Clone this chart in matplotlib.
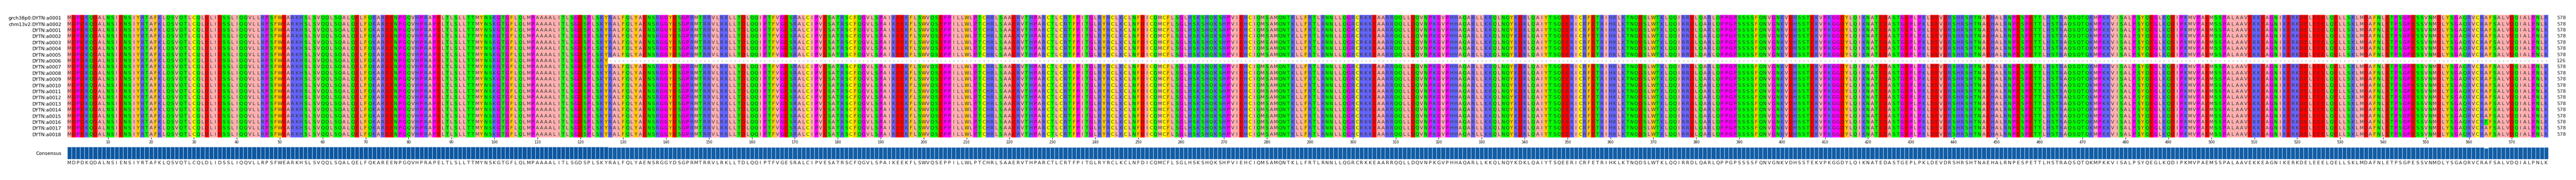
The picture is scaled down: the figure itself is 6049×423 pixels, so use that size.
import numpy as np
import matplotlib.pyplot as plt
from matplotlib.colors import to_rgb

# Consensus sequence (578 residues)
consensus = (
    "MDPDKQDALNSIENSIYRTAFKLQSVQTLCQLDLIDSSLIQQVLLRPSFWEARKHSLS"
    "VQQLSQALQELFQKAREENPGQVHPRAPELTLSLLTTMYNSKGTGFLQLMPAAAALIT"
    "LSGDSPLSKYRALFQLYAENSRGGYDSGPRMTRRVLRKLLTDLQQIPTFVGESRALCI"
    "PVESATRSCFQGVLSPAIKEEKFLSWVQSEPPILLWLPTCHRLSAAERVTHPARCTLC"
    "RTFPITGLRYRCLKCLNFDICQMCFLSGLHSKSHQKSHPVIEHCIQMSAMQNTKLLFR"
    "TLRNNLLQGRCRKKEAARRQQLLDQVNPKGVPHHAQARLLKKQLNQYKDKLQAIYTSQ"
    "EERICRFETRIHKLKTNQDSLWTKLQQIRRDLQARLQPPGPSSSSFQNVGNKVDHSST"
    "EKVPKGGDYLQIKNATEDASTGEPLPKLDEVDRSHRSHTNAEHALRNPESPETTLHST"
    "RAQSQTQKMPKKVISALPSYQEGLKQDIPKMVPAEMSSPALAAVEKKEAGNIKERKDE"
    "LEEELQELLSKLMDAFNLETPSGPESSVNMDLYSGAQRVCRAFSALVDQIALPNLK"
)

names = ["grch38p0:DYTN:a0001", "chm13v2:DYTN:a0002"] + \
        [f"DYTN:a{i:04d}" for i in range(1, 19)]

# per-sequence edits: (name, 1-based column, residue)
gap_seq = "DYTN:a0006"
gap_len = 126
mutations = [("DYTN:a0016", 564, "T")]

seqs = []
for n in names:
    s = list(consensus)
    if n == gap_seq:
        s = s[:gap_len] + ["-"] * (len(consensus) - gap_len)
    for mn, col, aa in mutations:
        if mn == n:
            s[col - 1] = aa
    seqs.append("".join(s))

zappo = {}
for aa in "ILVAM": zappo[aa] = "#ffafaf"
for aa in "FWY": zappo[aa] = "#ffc800"
for aa in "KRH": zappo[aa] = "#6464ff"
for aa in "DE": zappo[aa] = "#ff0000"
for aa in "STNQ": zappo[aa] = "#00ff00"
for aa in "PG": zappo[aa] = "#ff00ff"
zappo["C"] = "#ffff00"
zappo["-"] = "#ffffff"

L = len(consensus)
N = len(seqs)
img = np.array([[to_rgb(zappo[c]) for c in s] for s in seqs])

W, H = 6049, 423
fig = plt.figure(figsize=(W / 100, H / 100), dpi=100)
x0, x1 = 158 / W, 5984 / W
ax = fig.add_axes([x0, 1 - 323 / H, x1 - x0, (323 - 35) / H])
ax.imshow(img, aspect="auto", interpolation="nearest",
          extent=(0.5, L + 0.5, N - 0.5, -0.5))
for r, s in enumerate(seqs):
    for c, aa in enumerate(s):
        ax.text(c + 1, r, aa, ha="center", va="center", fontsize=8,
                color="#333333" if aa != "-" else "#555555")
    cnt = sum(1 for aa in s if aa != "-")
    ax.text(L + 2.5, r, str(cnt), ha="left", va="center", fontsize=8, color="#222222")
ax.set_yticks(range(N))
ax.set_yticklabels(names, fontsize=8)
ax.tick_params(axis="y", length=0, pad=10)
ax.set_xticks(range(10, L + 1, 10))
ax.tick_params(axis="x", labelsize=6, length=3, pad=2)
ax.set_xlim(0.5, L + 0.5)
for sp in ax.spines.values():
    sp.set_visible(False)

# consensus identity
ident = []
for c in range(L):
    col = [s[c] for s in seqs]
    ident.append(col.count(consensus[c]) / N)
ident = np.array(ident)
cmap = plt.get_cmap("Blues")
bx = fig.add_axes([x0, 1 - 374 / H, x1 - x0, (374 - 345) / H])
bx.bar(np.arange(1, L + 1), ident, width=1.0, color=cmap(0.4 + 0.45 * ident),
       edgecolor="#c6dbef", linewidth=0.8)
bx.set_xlim(0.5, L + 0.5)
bx.set_ylim(0, 1)
bx.set_yticks([0.5])
bx.set_yticklabels(["Consensus"], fontsize=8)
bx.tick_params(axis="y", length=0, pad=10)
bx.set_xticks(range(1, L + 1))
bx.set_xticklabels(list(consensus), fontsize=8, color="#222222")
bx.tick_params(axis="x", length=0, pad=3)
for sp in bx.spines.values():
    sp.set_visible(False)

fig.savefig("out.png", dpi=100)
